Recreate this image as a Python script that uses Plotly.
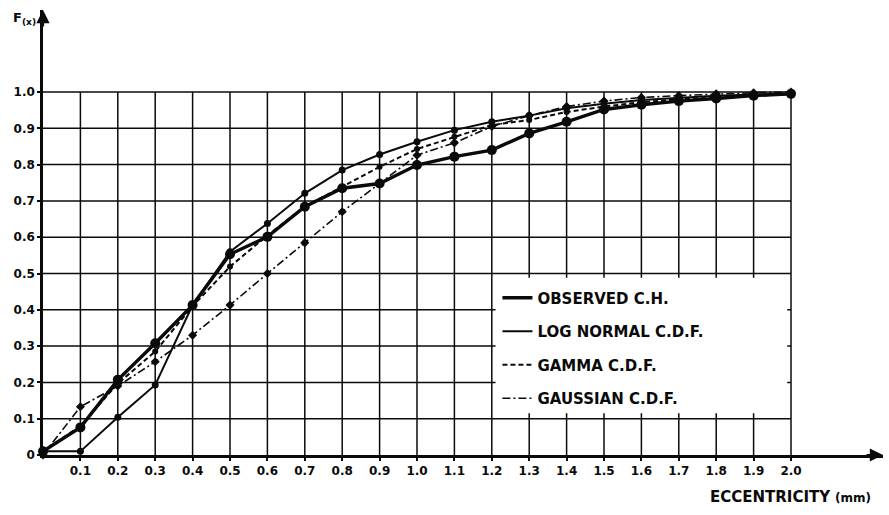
import plotly.graph_objects as go

# ---------------- data ----------------
eccentricity = [0.0, 0.1, 0.2, 0.3, 0.4, 0.5, 0.6, 0.7, 0.8, 0.9, 1.0,
                1.1, 1.2, 1.3, 1.4, 1.5, 1.6, 1.7, 1.8, 1.9, 2.0]

observed_ch = [0.010, 0.076, 0.207, 0.308, 0.413, 0.553, 0.601, 0.684, 0.735, 0.748, 0.799,
               0.822, 0.840, 0.886, 0.918, 0.952, 0.965, 0.975, 0.982, 0.990, 0.995]
lognormal_cdf = [0.010, 0.010, 0.104, 0.193, 0.413, 0.560, 0.638, 0.721, 0.785, 0.828, 0.863,
                 0.895, 0.918, 0.935, 0.955, 0.968, 0.978, 0.985, 0.990, 0.993, 0.996]
gamma_cdf = [0.010, 0.080, 0.197, 0.285, 0.410, 0.519, 0.605, 0.685, 0.739, 0.794, 0.843,
             0.877, 0.909, 0.923, 0.945, 0.960, 0.972, 0.980, 0.986, 0.990, 0.994]
gaussian_cdf = [0.000, 0.133, 0.190, 0.257, 0.330, 0.413, 0.500, 0.585, 0.670, 0.748, 0.826,
                0.860, 0.905, 0.935, 0.960, 0.975, 0.985, 0.990, 0.995, 0.998, 1.000]

x_ticks = [0.1, 0.2, 0.3, 0.4, 0.5, 0.6, 0.7, 0.8, 0.9, 1.0,
           1.1, 1.2, 1.3, 1.4, 1.5, 1.6, 1.7, 1.8, 1.9, 2.0]
x_tick_labels = ["0.1", "0.2", "0.3", "0.4", "0.5", "0.6", "0.7", "0.8", "0.9", "1.0",
                 "1.1", "1.2", "1.3", "1.4", "1.5", "1.6", "1.7", "1.8", "1.9", "2.0"]
y_ticks = [0, 0.1, 0.2, 0.3, 0.4, 0.5, 0.6, 0.7, 0.8, 0.9, 1.0]
y_tick_labels = ["0", "0.1", "0.2", "0.3", "0.4", "0.5", "0.6", "0.7", "0.8", "0.9", "1.0"]

series_names = ["OBSERVED C.H.", "LOG NORMAL C.D.F.", "GAMMA C.D.F.", "GAUSSIAN C.D.F."]

# ---------------- styling ----------------
FONT = "DejaVu Sans"
INK = "#0a0a0a"
X_MAX, Y_MAX = 2.246, 1.226

styles = {
    "OBSERVED C.H.": dict(width=3.4, dash="solid", symbol="circle", size=10),
    "LOG NORMAL C.D.F.": dict(width=2.0, dash="solid", symbol="circle", size=7),
    "GAMMA C.D.F.": dict(width=2.0, dash="5px,3px", symbol="circle", size=6),
    "GAUSSIAN C.D.F.": dict(width=1.6, dash="8px,3px,2px,3px", symbol="diamond", size=7),
}
values = {
    "OBSERVED C.H.": observed_ch,
    "LOG NORMAL C.D.F.": lognormal_cdf,
    "GAMMA C.D.F.": gamma_cdf,
    "GAUSSIAN C.D.F.": gaussian_cdf,
}

fig = go.Figure()

# data traces (drawn back to front)
for name in reversed(series_names):
    s = styles[name]
    fig.add_trace(go.Scatter(
        x=eccentricity, y=values[name], mode="lines+markers", name=name,
        showlegend=False, cliponaxis=False,
        line=dict(color=INK, width=s["width"], dash=s["dash"]),
        marker=dict(color=INK, symbol=s["symbol"], size=s["size"]),
    ))

# legend-only entries (line samples without markers)
for rank, name in enumerate(series_names):
    s = styles[name]
    fig.add_trace(go.Scatter(
        x=[None], y=[None], mode="lines", name=name, legendgroup=name,
        legendrank=rank + 1, showlegend=True,
        line=dict(color=INK, width=s["width"], dash=s["dash"]),
    ))

# grid (only within the 0..2.0 x 0..1.0 frame)
shapes = []
for xv in x_ticks:
    shapes.append(dict(type="line", xref="x", yref="y", x0=xv, x1=xv, y0=0, y1=y_ticks[-1],
                       line=dict(color=INK, width=1.5), layer="below"))
for yv in y_ticks[1:]:
    shapes.append(dict(type="line", xref="x", yref="y", x0=0, x1=x_ticks[-1], y0=yv, y1=yv,
                       line=dict(color=INK, width=1.5), layer="below"))
# white panel behind the legend
shapes.append(dict(type="rect", xref="x", yref="y", x0=1.21, x1=1.99, y0=0.115, y1=0.488,
                   fillcolor="white", line=dict(width=0), layer="below"))

fig.update_layout(
    width=889, height=515, autosize=False,
    margin=dict(l=43, r=6, t=10, b=60),
    paper_bgcolor="white", plot_bgcolor="white",
    font=dict(family=FONT, color=INK, size=12),
    shapes=shapes,
    showlegend=True,
    legend=dict(
        x=0.541, y=0.39, xanchor="left", yanchor="top",
        bgcolor="rgba(0,0,0,0)", borderwidth=0,
        font=dict(family=FONT, size=15, color=INK, weight="bold"),
        tracegroupgap=11, traceorder="grouped",
    ),
    xaxis=dict(
        range=[0, X_MAX], showgrid=False, zeroline=False, automargin=False,
        showline=True, linecolor=INK, linewidth=2.5,
        ticks="outside", ticklen=3, tickwidth=1.5, tickcolor=INK,
        tickvals=x_ticks, ticktext=x_tick_labels,
        tickfont=dict(family=FONT, size=12, color=INK, weight="bold"),
    ),
    yaxis=dict(
        range=[0, Y_MAX], showgrid=False, zeroline=False, automargin=False,
        showline=True, linecolor=INK, linewidth=2.5,
        ticks="outside", ticklen=3, tickwidth=1.5, tickcolor=INK,
        tickvals=y_ticks, ticktext=y_tick_labels,
        tickfont=dict(family=FONT, size=12, color=INK, weight="bold"),
    ),
    annotations=[
        # axis arrows
        dict(x=0, y=Y_MAX, xref="x", yref="y", ax=0, ay=18, axref="pixel", ayref="pixel",
             text="", showarrow=True, arrowhead=2, arrowsize=1.2, arrowwidth=2.2, arrowcolor=INK),
        dict(x=X_MAX, y=0, xref="x", yref="y", ax=-18, ay=0, axref="pixel", ayref="pixel",
             text="", showarrow=True, arrowhead=2, arrowsize=1.2, arrowwidth=2.2, arrowcolor=INK),
        # axis titles
        dict(x=-0.0226, y=0.98, xref="paper", yref="paper", xanchor="center", yanchor="middle",
             text="<b>F<sub>(x)</sub></b>", showarrow=False,
             font=dict(family=FONT, size=13, color=INK)),
        dict(x=0.988, y=-0.094, xref="paper", yref="paper", xanchor="right", yanchor="middle",
             text="<b>ECCENTRICITY</b> <b><span style='font-size:12px'>(mm)</span></b>",
             showarrow=False, font=dict(family=FONT, size=15, color=INK)),
    ],
)

fig.write_html("out.html", config={"displayModeBar": False},
               post_script="document.body.style.margin='0px';")
